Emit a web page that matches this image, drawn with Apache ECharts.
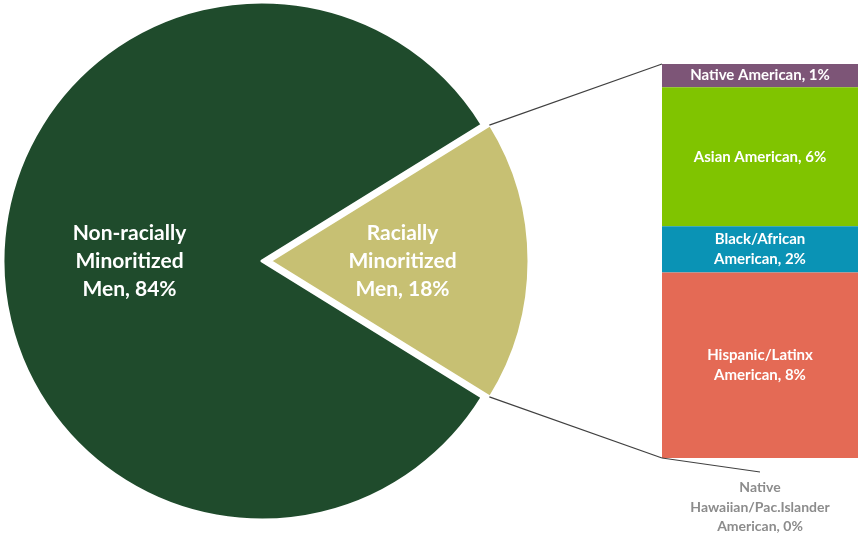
<!DOCTYPE html>
<html>
<head>
<meta charset="utf-8">
<script src="https://cdn.jsdelivr.net/npm/echarts@6/dist/echarts.min.js"></script>
<style>
  html, body { margin: 0; padding: 0; background: #fff; }
  #chart { width: 860px; height: 535px; }
</style>
</head>
<body>
<div id="chart"></div>
<script>
// Share of men: racially minoritized vs. not
const pieNames = ['Racially\nMinoritized\nMen', 'Non-racially\nMinoritized\nMen'];
const pieValues = [18, 84];

// Breakdown of the racially minoritized group
const barCategory = ['Racially Minoritized Men'];
const barNames = [
  'Native American',
  'Asian American',
  'Black/African\nAmerican',
  'Hispanic/Latinx\nAmerican',
  'Native\nHawaiian/Pac.Islander\nAmerican'
];
const barValues = [1, 6, 2, 8, 0];

const pieColors = ['#c7c073', '#1f4b2c'];
const barColors = ['#7d5577', '#80c400', '#0a93b5', '#e46a55', '#a5a5a5'];

const FONT = 'Lato, "Open Sans", sans-serif';
const PIE_CENTER = [262, 261];
const PIE_RADIUS = 259;
const OFFSET = 8;

const pieTotal = pieValues.reduce((a, b) => a + b, 0);
const barTotal = barValues.reduce((a, b) => a + b, 0);
// Centre the exploded slice on the 3 o'clock direction
const startAngle = pieValues[0] / pieTotal * 180;

const chart = echarts.init(document.getElementById('chart'), null, { renderer: 'canvas' });

const pieSeries = {
  type: 'pie',
  center: PIE_CENTER,
  radius: PIE_RADIUS,
  startAngle: startAngle,
  clockwise: true,
  selectedMode: 'single',
  selectedOffset: OFFSET,
  avoidLabelOverlap: false,
  silent: true,
  itemStyle: { borderColor: '#ffffff', borderWidth: 3 },
  label: {
    show: true,
    position: 'inside',
    color: '#ffffff',
    fontFamily: FONT,
    fontWeight: 'bold',
    fontSize: 21,
    lineHeight: 28,
    formatter: p => p.name + ', ' + p.value + '%'
  },
  labelLine: { show: false },
  emphasis: { disabled: true },
  data: pieNames.map((n, i) => ({
    name: n,
    value: pieValues[i],
    selected: i === 0,
    itemStyle: { color: pieColors[i] }
  }))
};

const barSeries = barNames.map((n, i) => {
  const last = i === barNames.length - 1;
  return {
    type: 'bar',
    name: n,
    stack: 'group',
    barWidth: '100%',
    silent: true,
    xAxisIndex: 0,
    yAxisIndex: 0,
    itemStyle: { color: barColors[i] },
    label: {
      show: true,
      position: last ? 'bottom' : 'inside',
      distance: last ? 20 : 0,
      color: last ? '#8c8c8c' : '#ffffff',
      fontFamily: FONT,
      fontWeight: 'bold',
      fontSize: last ? 14 : 15,
      lineHeight: last ? 19.5 : 20,
      formatter: p => n + ', ' + p.value + '%'
    },
    data: [barValues[i]]
  };
});

chart.setOption({
  animation: false,
  backgroundColor: '#ffffff',
  grid: { left: 662, top: 64, width: 196, height: 394 },
  xAxis: { type: 'category', data: barCategory, show: false },
  yAxis: { type: 'value', min: 0, max: barTotal, inverse: true, show: false },
  series: [pieSeries].concat(barSeries)
});

// Connector lines from the exploded slice to the breakdown bar
function drawConnectors() {
  const half = pieValues[0] / pieTotal * Math.PI;
  const cx = PIE_CENTER[0] + OFFSET;
  const cy = PIE_CENTER[1];
  const r = PIE_RADIUS - 1;
  const topArc = [cx + r * Math.cos(half), cy - r * Math.sin(half)];
  const botArc = [cx + r * Math.cos(half), cy + r * Math.sin(half)];

  const mid = chart.convertToPixel({ gridIndex: 0 }, [barCategory[0], 0]);
  const bottom = chart.convertToPixel({ gridIndex: 0 }, [barCategory[0], barTotal]);
  const barLeft = mid[0] - 98;
  const barTop = mid[1];
  const barBottom = bottom[1];

  const lineStyle = { stroke: '#404040', lineWidth: 1.2 };
  chart.setOption({
    graphic: [
      { type: 'line', silent: true, z: 10, shape: { x1: topArc[0], y1: topArc[1], x2: barLeft, y2: barTop }, style: lineStyle },
      { type: 'line', silent: true, z: 10, shape: { x1: botArc[0], y1: botArc[1], x2: barLeft, y2: barBottom }, style: lineStyle },
      { type: 'line', silent: true, z: 10, shape: { x1: barLeft, y1: barBottom, x2: bottom[0], y2: barBottom + 14 }, style: lineStyle }
    ]
  });
}
drawConnectors();
</script>
</body>
</html>
